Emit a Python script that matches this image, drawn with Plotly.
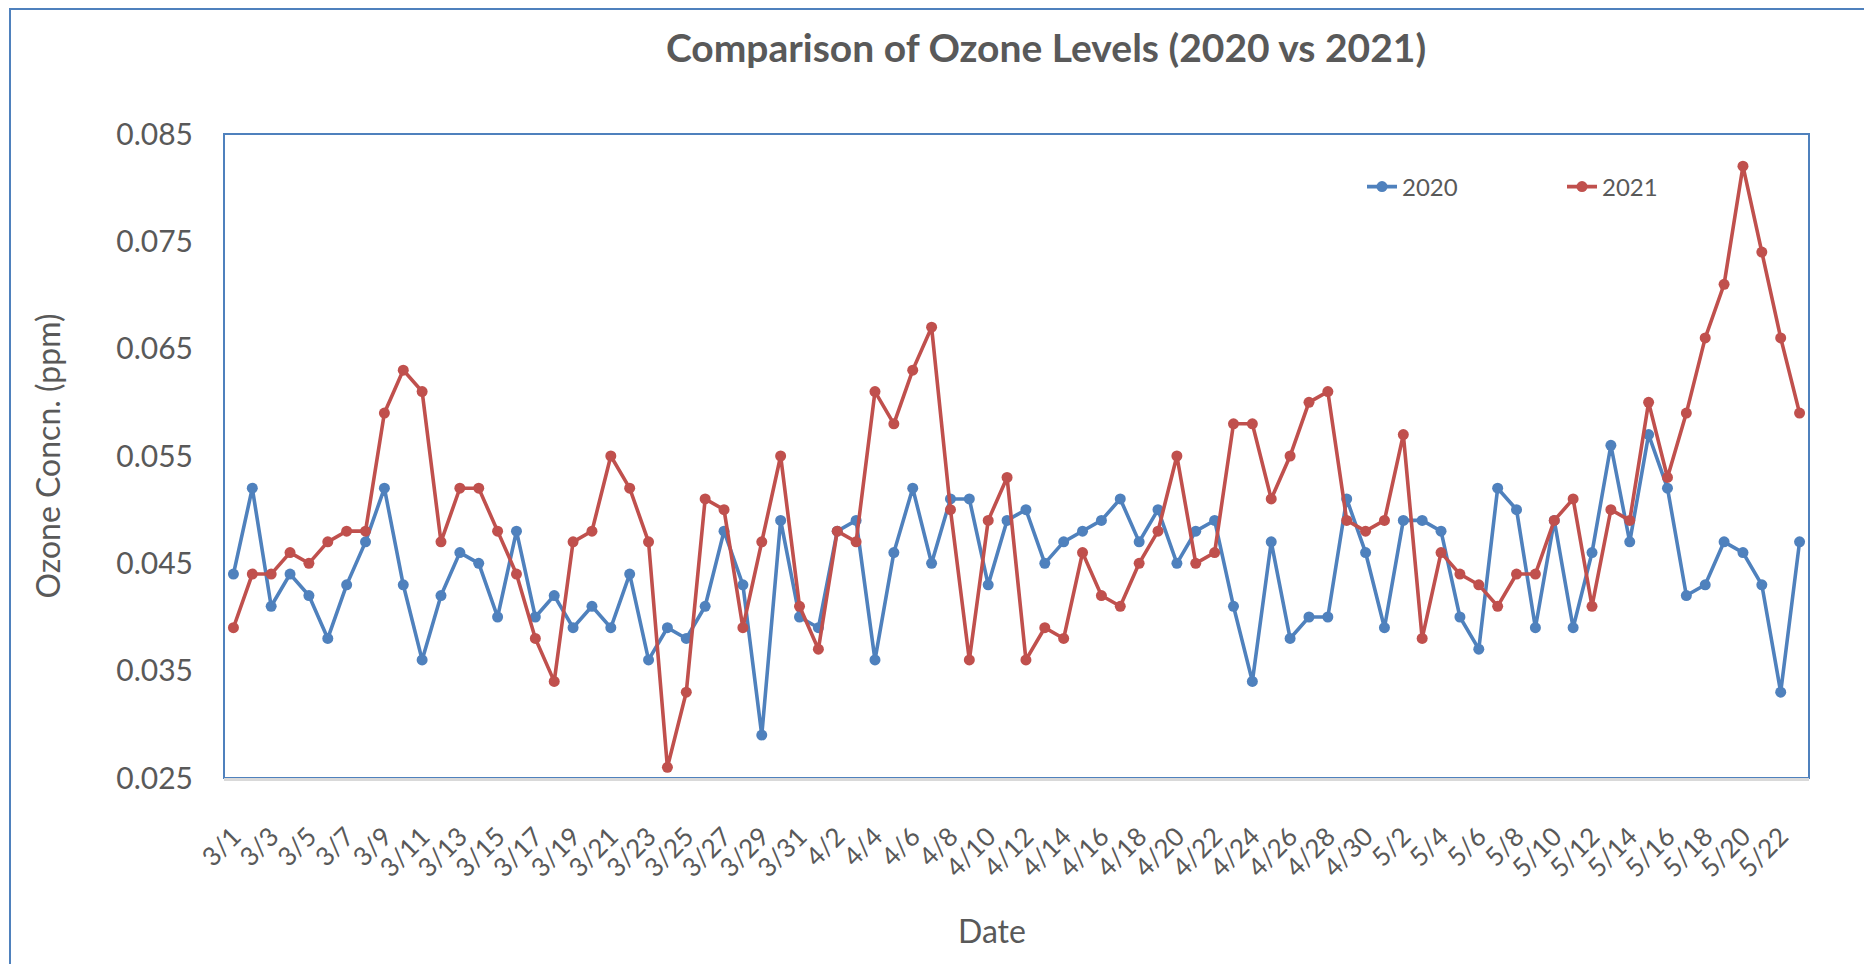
import plotly.graph_objects as go

# Categories: daily dates 3/1 .. 5/23
dates = ([f"3/{d}" for d in range(1, 32)] +
         [f"4/{d}" for d in range(1, 31)] +
         [f"5/{d}" for d in range(1, 24)])

ozone_2020 = [
    0.044, 0.052, 0.041, 0.044, 0.042, 0.038, 0.043, 0.047, 0.052, 0.043,
    0.036, 0.042, 0.046, 0.045, 0.040, 0.048, 0.040, 0.042, 0.039, 0.041,
    0.039, 0.044, 0.036, 0.039, 0.038, 0.041, 0.048, 0.043, 0.029, 0.049,
    0.040, 0.039, 0.048, 0.049, 0.036, 0.046, 0.052, 0.045, 0.051, 0.051,
    0.043, 0.049, 0.050, 0.045, 0.047, 0.048, 0.049, 0.051, 0.047, 0.050,
    0.045, 0.048, 0.049, 0.041, 0.034, 0.047, 0.038, 0.040, 0.040, 0.051,
    0.046, 0.039, 0.049, 0.049, 0.048, 0.040, 0.037, 0.052, 0.050, 0.039,
    0.049, 0.039, 0.046, 0.056, 0.047, 0.057, 0.052, 0.042, 0.043, 0.047,
    0.046, 0.043, 0.033, 0.047,
]

ozone_2021 = [
    0.039, 0.044, 0.044, 0.046, 0.045, 0.047, 0.048, 0.048, 0.059, 0.063,
    0.061, 0.047, 0.052, 0.052, 0.048, 0.044, 0.038, 0.034, 0.047, 0.048,
    0.055, 0.052, 0.047, 0.026, 0.033, 0.051, 0.050, 0.039, 0.047, 0.055,
    0.041, 0.037, 0.048, 0.047, 0.061, 0.058, 0.063, 0.067, 0.050, 0.036,
    0.049, 0.053, 0.036, 0.039, 0.038, 0.046, 0.042, 0.041, 0.045, 0.048,
    0.055, 0.045, 0.046, 0.058, 0.058, 0.051, 0.055, 0.060, 0.061, 0.049,
    0.048, 0.049, 0.057, 0.038, 0.046, 0.044, 0.043, 0.041, 0.044, 0.044,
    0.049, 0.051, 0.041, 0.050, 0.049, 0.060, 0.053, 0.059, 0.066, 0.071,
    0.082, 0.074, 0.066, 0.059,
]

y_ticks = [0.025, 0.035, 0.045, 0.055, 0.065, 0.075, 0.085]
x_ticks = dates[::2]

BLUE = "#4F81BD"
RED = "#C0504D"
TEXT = "#595959"
FONT = "Lato, 'Open Sans', sans-serif"

OFF = 8                      # page body margin
W, H = 1872 - OFF, 964 - OFF
L, T = 224 - OFF, 134 - OFF
R = W - (1809 - OFF)
B = H - (778 - OFF)
PW, PH = W - L - R, H - T - B


def px_x(xp):
    """page x pixel -> paper coordinate"""
    return (xp - OFF - L) / PW


def px_y(yp):
    """page y pixel -> paper coordinate"""
    return (H - B - (yp - OFF)) / PH


fig = go.Figure()
fig.add_trace(go.Scatter(x=dates, y=ozone_2020, name="2020", mode="lines+markers",
                         line=dict(color=BLUE, width=3.6),
                         marker=dict(color=BLUE, size=11)))
fig.add_trace(go.Scatter(x=dates, y=ozone_2021, name="2021", mode="lines+markers",
                         line=dict(color=RED, width=3.6),
                         marker=dict(color=RED, size=11)))

fig.update_layout(
    width=W, height=H,
    margin=dict(l=L, r=R, t=T, b=B, autoexpand=False),
    paper_bgcolor="white", plot_bgcolor="white",
    font=dict(family=FONT, color=TEXT),
    title=dict(text="<b>Comparison of Ozone Levels (2020 vs 2021)</b>",
               x=(1046 - OFF) / W, xanchor="center", xref="container",
               y=1 - (48 - OFF) / H, yanchor="middle", yref="container",
               font=dict(size=39, color=TEXT, family=FONT)),
    showlegend=True,
    legend=dict(orientation="h", x=px_x(1362), xanchor="left",
                y=px_y(187), yanchor="middle",
                font=dict(size=24, color=TEXT), bgcolor="rgba(0,0,0,0)",
                entrywidth=155, entrywidthmode="pixels", traceorder="normal"),
    xaxis=dict(type="category", categoryorder="array", categoryarray=dates,
               range=[-0.5, len(dates) - 0.5],
               tickmode="array", tickvals=x_ticks, ticktext=x_ticks,
               tickangle=-45, tickfont=dict(size=26, color=TEXT),
               ticklabelstandoff=30,
               showgrid=False, zeroline=False,
               showline=True, linecolor="#D9D9D9", linewidth=3,
               ticks="", automargin=False),
    yaxis=dict(range=[0.025, 0.085], tickmode="array", tickvals=y_ticks,
               tickformat=".3f", tickfont=dict(size=30, color=TEXT),
               showgrid=False, zeroline=False, showline=False, ticks="",
               ticklabelstandoff=30, automargin=False,
               title=dict(text="Ozone Concn. (ppm)", font=dict(size=32, color=TEXT),
                          standoff=46)),
    annotations=[
        dict(text="Date", xref="paper", yref="paper",
             x=px_x(992), y=px_y(930), xanchor="center", yanchor="middle",
             showarrow=False, font=dict(size=32, color=TEXT, family=FONT)),
    ],
    shapes=[
        # plot-area border
        dict(type="rect", xref="paper", yref="paper", x0=0, x1=1, y0=0, y1=1,
             line=dict(color=BLUE, width=2), layer="below"),
        # chart-area border
        dict(type="rect", xref="paper", yref="paper",
             x0=px_x(10), x1=px_x(1865), y0=px_y(1000), y1=px_y(OFF + 1),
             line=dict(color=BLUE, width=2), layer="below"),
    ],
)

fig.write_html("out.html")
